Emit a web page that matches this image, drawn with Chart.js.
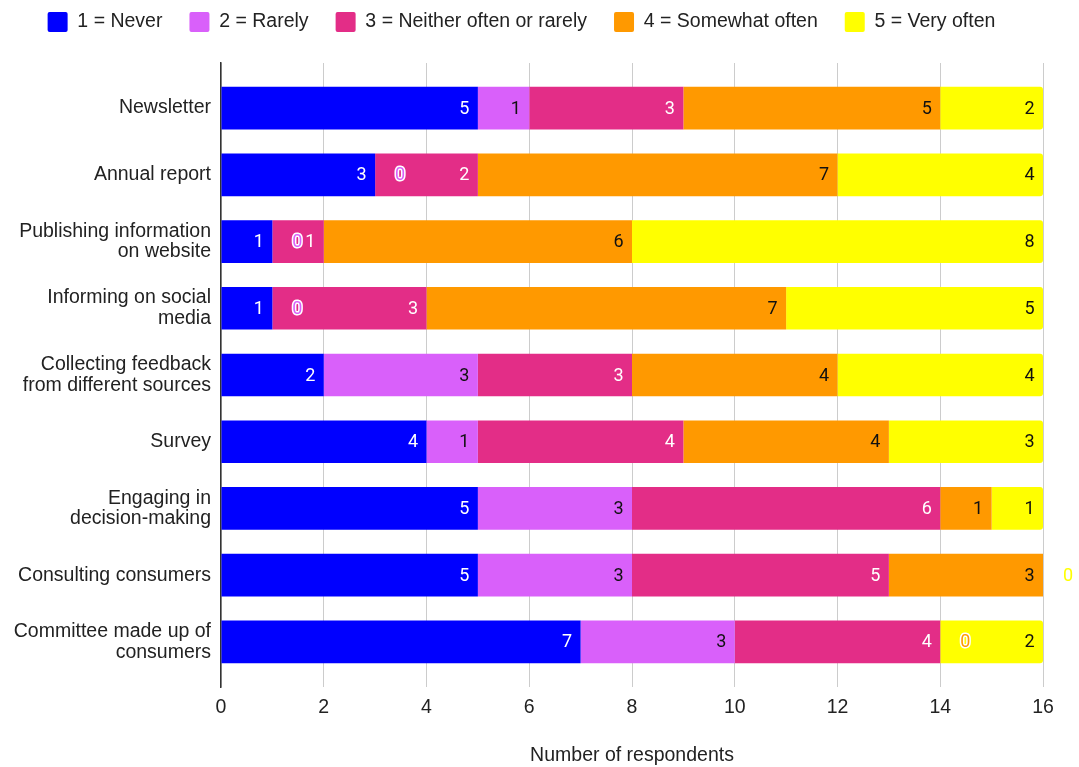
<!DOCTYPE html>
<html>
<head>
<meta charset="utf-8">
<script src="https://cdn.jsdelivr.net/npm/chart.js@4/dist/chart.umd.min.js"></script>
<style>
  html, body { margin: 0; padding: 0; background: #fff; }
  canvas { display: block; }
</style>
</head>
<body>
<canvas id="chart" width="1079" height="767"></canvas>
<script>
  'use strict';

  // DATA
  const categories = [
    'Newsletter',
    'Annual report',
    ['Publishing information', 'on website'],
    ['Informing on social', 'media'],
    ['Collecting feedback', 'from different sources'],
    'Survey',
    ['Engaging in', 'decision-making'],
    'Consulting consumers',
    ['Committee made up of', 'consumers'],
  ];
  const seriesNames = ['1 = Never', '2 = Rarely', '3 = Neither often or rarely', '4 = Somewhat often', '5 = Very often'];
  const never = [5, 3, 1, 1, 2, 4, 5, 5, 7];
  const rarely = [1, 0, 0, 0, 3, 1, 3, 3, 3];
  const neither = [3, 2, 1, 3, 3, 4, 6, 5, 4];
  const somewhat = [5, 7, 6, 7, 4, 4, 1, 3, 0];
  const veryOften = [2, 4, 8, 5, 4, 3, 1, 0, 2];
  const xTicks = [0, 2, 4, 6, 8, 10, 12, 14, 16];

  const colors = ['#0000ff', '#d960fa', '#e32d87', '#ff9900', '#ffff00'];
  const labelColors = ['#ffffff', '#111111', '#ffffff', '#111111', '#111111'];
  const arial = "'Liberation Sans', Arial, sans-serif";

  const series = [never, rarely, neither, somewhat, veryOften];

  const datasets = series.map(function (values, s) {
    return {
      label: seriesNames[s],
      data: values.map(function (v, i) { return { x: v, y: i }; }),
      backgroundColor: colors[s],
      borderWidth: 0,
      borderRadius: s === series.length - 1
        ? { topLeft: 0, bottomLeft: 0, topRight: 3, bottomRight: 3 }
        : 0,
      categoryPercentage: 0.8,
      barPercentage: 0.8,
    };
  });

  // ETYKIETY NA SŁUPKACH
  const barLabels = {
    id: 'barLabels',
    afterDatasetsDraw(chart) {
      const ctx = chart.ctx;
      ctx.save();
      ctx.font = '18px Roboto';
      ctx.textBaseline = 'middle';
      chart.data.datasets.forEach(function (ds, s) {
        chart.getDatasetMeta(s).data.forEach(function (bar, i) {
          const v = ds.data[i].x;
          if (v === 0) {
            ctx.textAlign = 'center';
            ctx.lineWidth = 3;
            ctx.lineJoin = 'round';
            ctx.strokeStyle = '#ffffff';
            ctx.strokeText('0', bar.x + 25, bar.y + 1);
            ctx.fillStyle = colors[s];
            ctx.fillText('0', bar.x + 25, bar.y + 1);
          } else {
            ctx.textAlign = 'right';
            ctx.fillStyle = labelColors[s];
            ctx.fillText(String(v), bar.x - 8.5, bar.y + 1);
          }
        });
      });
      ctx.restore();
    }
  };

  // miejsce pod legenda
  const legendSpace = {
    id: 'legendSpace',
    beforeInit(chart) {
      const fit = chart.legend.fit;
      chart.legend.fit = function () {
        fit.call(this);
        this.height = 78;
      };
    }
  };

  const chart = new Chart(document.getElementById('chart'), {
    type: 'bar',
    data: { datasets: datasets },
    options: {
      indexAxis: 'y',
      responsive: false,
      animation: false,
      layout: { padding: { top: -15, right: 36, bottom: 0, left: 0 } },
      plugins: {
        tooltip: { enabled: false },
        legend: {
          position: 'top',
          labels: {
            boxWidth: 20,
            boxHeight: 20,
            padding: 27,
            useBorderRadius: true,
            borderRadius: 2,
            color: '#222',
            font: { family: arial, size: 19.5 },
          }
        }
      },
      scales: {
        x: {
          type: 'linear',
          stacked: true,
          min: 0,
          max: 16,
          afterBuildTicks: function (axis) {
            axis.ticks = xTicks.map(function (v) { return { value: v }; });
          },
          afterFit: function (axis) { axis.height = 80; },
          grid: { color: '#cccccc', lineWidth: 1, drawTicks: false },
          border: { display: false },
          ticks: {
            padding: 9,
            color: '#222',
            font: { family: arial, size: 19.5 },
          },
          title: {
            display: true,
            text: 'Number of respondents',
            color: '#222',
            font: { family: arial, size: 19.5 },
            padding: { top: 0, bottom: 0 },
          }
        },
        y: {
          type: 'linear',
          stacked: true,
          reverse: true,
          offset: false,
          min: -0.675,
          max: categories.length - 1 + 0.675,
          afterBuildTicks: function (axis) {
            axis.ticks = categories.map(function (c, i) { return { value: i }; });
          },
          afterFit: function (axis) { axis.width = 221; },
          grid: { display: false, drawTicks: false, offset: false },
          border: { display: true, color: '#333', width: 1.5 },
          ticks: {
            autoSkip: false,
            padding: 10,
            color: '#222',
            font: { family: arial, size: 19.5, lineHeight: 1.05 },
            callback: function (value) { return categories[value]; },
          }
        }
      }
    },
    plugins: [barLabels, legendSpace],
  });
</script>
</body>
</html>
